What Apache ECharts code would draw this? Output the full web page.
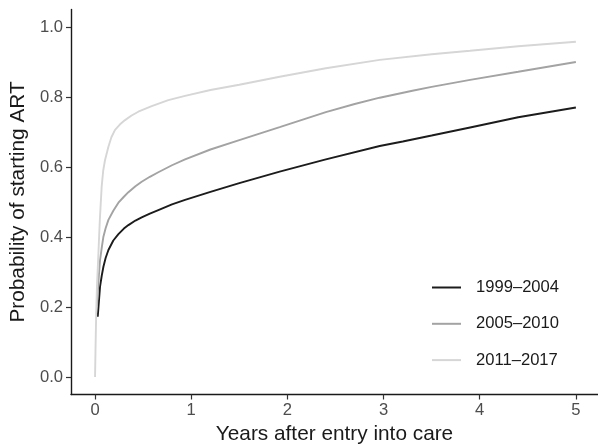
<!DOCTYPE html>
<html>
<head>
<meta charset="utf-8">
<script src="https://cdn.jsdelivr.net/npm/echarts@6/dist/echarts.min.js"></script>
<style>
html,body{margin:0;padding:0;background:#fff;}
#chart{width:598px;height:445px;}
</style>
</head>
<body>
<div id="chart"></div>
<script>
// Series names
const seriesNames = ['1999\u20132004', '2005\u20132010', '2011\u20132017'];

// 1999–2004 (years, probability)
const years1999 = [0.028, 0.04, 0.052, 0.07, 0.087, 0.11, 0.139, 0.19, 0.243, 0.3, 0.347, 0.42, 0.485, 0.57, 0.658, 0.8, 0.936, 1.2, 1.5, 1.92, 2.4, 2.96, 3.2, 3.5, 3.9, 4.4, 5.0];
const prob1999  = [0.172, 0.215, 0.258, 0.29, 0.315, 0.34, 0.363, 0.39, 0.408, 0.424, 0.434, 0.447, 0.456, 0.467, 0.477, 0.493, 0.506, 0.529, 0.554, 0.587, 0.622, 0.66, 0.673, 0.69, 0.713, 0.742, 0.77];

// 2005–2010
const years2005 = [0.02, 0.028, 0.04, 0.052, 0.07, 0.087, 0.11, 0.139, 0.19, 0.243, 0.3, 0.347, 0.42, 0.485, 0.57, 0.658, 0.8, 0.936, 1.2, 1.5, 1.92, 2.4, 2.7, 2.96, 3.3, 3.5, 3.9, 4.4, 5.0];
const prob2005  = [0.2, 0.239, 0.29, 0.334, 0.37, 0.401, 0.425, 0.449, 0.475, 0.498, 0.515, 0.528, 0.545, 0.558, 0.572, 0.585, 0.605, 0.622, 0.65, 0.677, 0.714, 0.757, 0.78, 0.798, 0.818, 0.829, 0.849, 0.872, 0.90];

// 2011–2017
const years2011 = [0, 0.005, 0.012, 0.02, 0.035, 0.05, 0.069, 0.085, 0.104, 0.139, 0.17, 0.208, 0.26, 0.312, 0.38, 0.45, 0.589, 0.762, 0.936, 1.2, 1.5, 1.92, 2.4, 2.96, 3.5, 3.9, 4.4, 5.0];
const prob2011  = [0, 0.08, 0.18, 0.26, 0.353, 0.45, 0.544, 0.59, 0.62, 0.658, 0.685, 0.706, 0.722, 0.734, 0.747, 0.758, 0.774, 0.791, 0.803, 0.82, 0.835, 0.858, 0.882, 0.906, 0.922, 0.932, 0.945, 0.958];

// Tick labels
const xTicks = [0, 1, 2, 3, 4, 5];
const yTicks = [0, 0.2, 0.4, 0.6, 0.8, 1.0];

const lineColors = ['#1c1c1c', '#a3a3a3', '#d6d6d6'];

function pairs(xs, ys) { return xs.map((x, i) => [x, ys[i]]); }

const chart = echarts.init(document.getElementById('chart'), null, {renderer: 'canvas'});
const font = 'Liberation Sans, Arial, Helvetica, sans-serif';

const allSeries = [
  pairs(years1999, prob1999),
  pairs(years2005, prob2005),
  pairs(years2011, prob2011)
].map((d, i) => ({
  name: seriesNames[i],
  type: 'line',
  data: d,
  showSymbol: false,
  smooth: false,
  lineStyle: {color: lineColors[i], width: 1.9},
  itemStyle: {color: lineColors[i]},
  emphasis: {disabled: true}
}));

chart.setOption({
  animation: false,
  backgroundColor: '#ffffff',
  grid: {left: 71, right: 0, top: 9.5, bottom: 50.5, containLabel: false, outerBoundsMode: 'none'},
  xAxis: {
    type: 'value',
    min: -0.25, max: 5.23,
    splitLine: {show: false},
    axisLine: {show: true, onZero: false, lineStyle: {color: '#1a1a1a', width: 1.4}},
    axisTick: {show: true, length: 5, customValues: xTicks, lineStyle: {color: '#333333', width: 1.2}},
    axisLabel: {customValues: xTicks, margin: 7, color: '#4d4d4d', fontSize: 16.6, fontFamily: font,
      formatter: v => String(v)},
    name: 'Years after entry into care',
    nameLocation: 'middle',
    nameGap: 29,
    nameTextStyle: {color: '#1a1a1a', fontSize: 20.8, fontFamily: font, verticalAlign: 'top'}
  },
  yAxis: {
    type: 'value',
    min: -0.05, max: 1.05,
    splitLine: {show: false},
    axisLine: {show: true, onZero: false, lineStyle: {color: '#1a1a1a', width: 1.4}},
    axisTick: {show: true, length: 5, customValues: yTicks, lineStyle: {color: '#333333', width: 1.2}},
    axisLabel: {customValues: yTicks, margin: 8, color: '#4d4d4d', fontSize: 16.6, fontFamily: font,
      formatter: v => v.toFixed(1)},
    name: 'Probability of starting ART',
    nameLocation: 'middle',
    nameGap: 35,
    nameTextStyle: {color: '#1a1a1a', fontSize: 20.8, fontFamily: font}
  },
  legend: {
    orient: 'vertical',
    left: 427,
    top: 272.5,
    itemWidth: 29,
    itemHeight: 2,
    itemGap: 16.3,
    icon: 'rect',
    textStyle: {color: '#1a1a1a', fontSize: 16.6, fontFamily: font, lineHeight: 20, padding: [0, 0, 0, 10]},
    data: seriesNames
  },
  series: allSeries
});
</script>
</body>
</html>
